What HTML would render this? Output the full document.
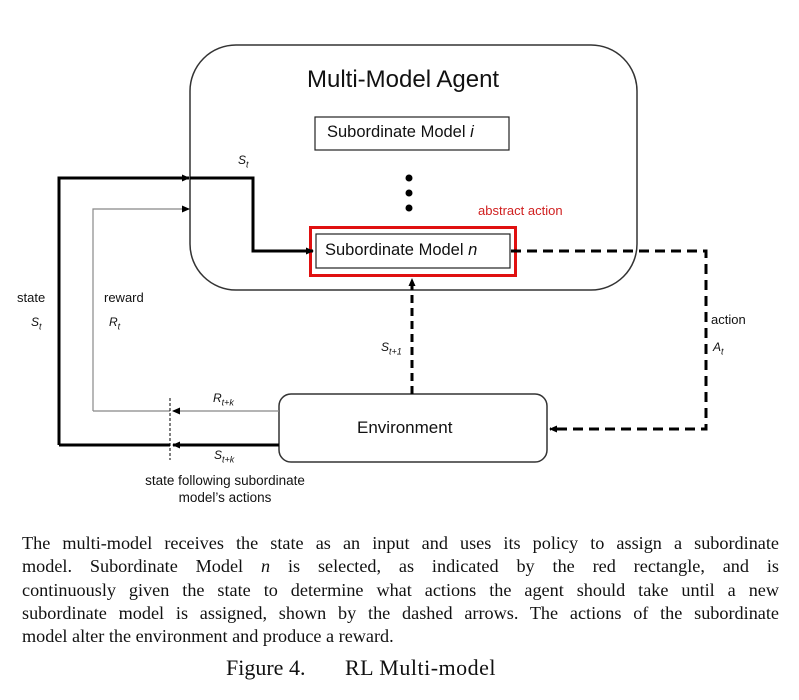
<!DOCTYPE html>
<html><head><style>
body{margin:0;width:799px;height:700px;background:#fff;overflow:hidden;position:relative;font-family:"Liberation Sans",sans-serif}
.t{position:absolute;white-space:nowrap;color:#111}
.cap{position:absolute;left:22px;width:757px;font-family:"Liberation Serif",serif;font-size:18.2px;line-height:23.3px;text-align:justify;color:#111;top:532px}
.cap span{display:block;text-align:justify;text-align-last:justify}
.cap span.l{text-align-last:left}
</style></head><body>
<svg width="799" height="520" style="position:absolute;left:0;top:0">
<defs>
<marker id="a" markerWidth="8" markerHeight="8" refX="7" refY="4" orient="auto" markerUnits="userSpaceOnUse"><path d="M0,0.5 L8,4 L0,7.5z" fill="#000"/></marker>
</defs>
<rect x="190" y="45" width="447" height="245" rx="46" fill="none" stroke="#333" stroke-width="1.5"/>
<rect x="315" y="117" width="194" height="33" fill="none" stroke="#222" stroke-width="1.2"/>
<circle cx="409" cy="178" r="3.5"/><circle cx="409" cy="193" r="3.5"/><circle cx="409" cy="208" r="3.5"/>
<rect x="310.5" y="227.5" width="205" height="48" fill="none" stroke="#e01010" stroke-width="3"/>
<rect x="316" y="234" width="194" height="34" fill="none" stroke="#222" stroke-width="1.2"/>
<rect x="279" y="394" width="268" height="68" rx="12" fill="none" stroke="#333" stroke-width="1.5"/>
<polyline points="59,445 59,178 189,178" fill="none" stroke="#000" stroke-width="3" marker-end="url(#a)"/>
<polyline points="190,178 253,178 253,251 313,251" fill="none" stroke="#000" stroke-width="3" marker-end="url(#a)"/>
<line x1="279" y1="445" x2="173" y2="445" stroke="#000" stroke-width="3" marker-end="url(#a)"/>
<line x1="59" y1="445" x2="170" y2="445" stroke="#000" stroke-width="3"/>
<polyline points="93,411 93,209 189,209" fill="none" stroke="#888" stroke-width="1.2" marker-end="url(#a)"/>
<line x1="279" y1="411" x2="173" y2="411" stroke="#888" stroke-width="1.2" marker-end="url(#a)"/>
<line x1="93" y1="411" x2="170" y2="411" stroke="#888" stroke-width="1.2"/>
<line x1="170" y1="398" x2="170" y2="460" stroke="#000" stroke-width="1" stroke-dasharray="3,2"/>
<line x1="412" y1="394" x2="412" y2="279" stroke="#000" stroke-width="3" stroke-dasharray="8,5" marker-end="url(#a)"/>
<polyline points="511,251 706,251 706,429 550,429" fill="none" stroke="#000" stroke-width="3" stroke-dasharray="10,6" marker-end="url(#a)"/>
</svg>
<div class="t" style="left:307px;top:66px;font-size:24px">Multi-Model Agent</div>
<div class="t" style="left:327px;top:123px;font-size:16.5px">Subordinate Model <i>i</i></div>
<div class="t" style="left:325px;top:241px;font-size:16.5px">Subordinate Model <i>n</i></div>
<div class="t" style="left:478px;top:203px;font-size:13px;color:#d02020">abstract action</div>
<div class="t" style="left:357px;top:418px;font-size:17px">Environment</div>
<div class="t" style="left:238px;top:153px;font-size:12px"><i>S<sub style="font-size:9px">t</sub></i></div>
<div class="t" style="left:17px;top:290px;font-size:13px">state</div>
<div class="t" style="left:31px;top:315px;font-size:12px"><i>S<sub style="font-size:9px">t</sub></i></div>
<div class="t" style="left:104px;top:290px;font-size:13px">reward</div>
<div class="t" style="left:109px;top:315px;font-size:12px"><i>R<sub style="font-size:9px">t</sub></i></div>
<div class="t" style="left:381px;top:340px;font-size:12px"><i>S<sub style="font-size:9px">t+1</sub></i></div>
<div class="t" style="left:711px;top:312px;font-size:13px">action</div>
<div class="t" style="left:713px;top:340px;font-size:12px"><i>A<sub style="font-size:9px">t</sub></i></div>
<div class="t" style="left:213px;top:391px;font-size:12px"><i>R<sub style="font-size:9px">t+k</sub></i></div>
<div class="t" style="left:214px;top:448px;font-size:12px"><i>S<sub style="font-size:9px">t+k</sub></i></div>
<div class="t" style="left:125px;top:472px;width:200px;text-align:center;font-size:13.5px;line-height:17px">state following subordinate<br>model’s actions</div>
<div class="cap"><span>The multi-model receives the state as an input and uses its policy to assign a subordinate</span><span>model. Subordinate Model <i>n</i> is selected, as indicated by the red rectangle, and is</span><span>continuously given the state to determine what actions the agent should take until a new</span><span>subordinate model is assigned, shown by the dashed arrows. The actions of the subordinate</span><span class="l">model alter the environment and produce a reward.</span></div>
<div class="t" style="left:226px;top:655px;font-family:'Liberation Serif',serif;font-size:22px">Figure 4.</div>
<div class="t" style="left:345px;top:655px;font-family:'Liberation Serif',serif;font-size:22px;letter-spacing:0.5px">RL Multi-model</div>
</body></html>
